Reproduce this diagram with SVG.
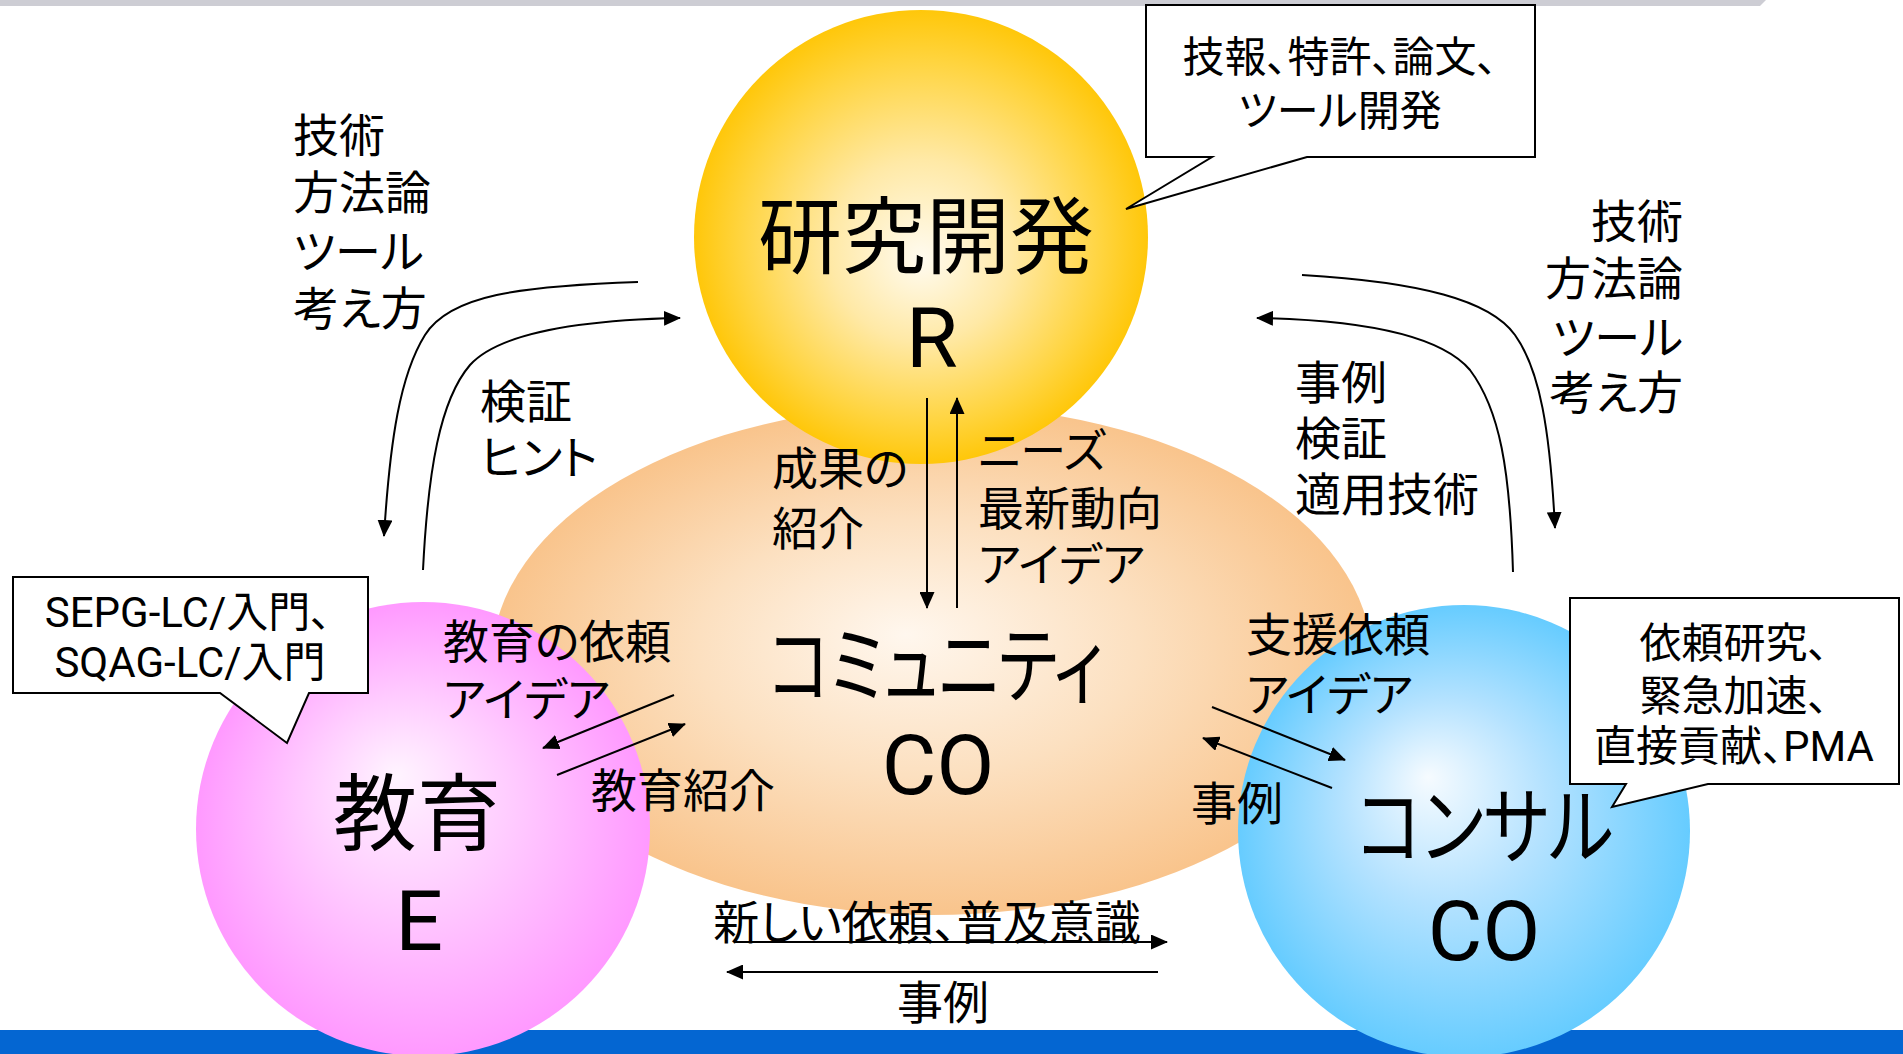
<svg xmlns="http://www.w3.org/2000/svg" width="1903" height="1054" viewBox="0 0 1903 1054">
<style>
.t{font-family:Roboto,"Noto Sans CJK JP",sans-serif;fill:#000;font-feature-settings:"palt" 1;dominant-baseline:central}
.big{font-size:84px;text-anchor:middle}
.lbl{font-size:46px}
.end{text-anchor:end}
.mid{text-anchor:middle}
.call{font-size:42px;text-anchor:middle}
.co{fill:none;stroke:#000;stroke-width:2}
.box{fill:#fff;stroke:#000;stroke-width:2}
</style>
<defs>
<marker id="ah" markerWidth="17" markerHeight="15" refX="16" refY="7.5" orient="auto" markerUnits="userSpaceOnUse">
<path d="M0,0 L17,7.5 L0,15 Z" fill="#000"/>
</marker>
<radialGradient id="gY" cx="0.5" cy="0.5" r="0.5" fx="0.5" fy="0.55">
<stop offset="0" stop-color="#FFFBF0"/>
<stop offset="0.4" stop-color="#FFE9A6"/>
<stop offset="0.8" stop-color="#FFD43E"/>
<stop offset="1" stop-color="#FFC70A"/>
</radialGradient>
<radialGradient id="gO" cx="0.5" cy="0.5" r="0.5" fx="0.47" fy="0.45">
<stop offset="0" stop-color="#FFF7EE"/>
<stop offset="0.5" stop-color="#FCE0C0"/>
<stop offset="1" stop-color="#F9C48C"/>
</radialGradient>
<radialGradient id="gP" cx="0.5" cy="0.5" r="0.5" fx="0.44" fy="0.38">
<stop offset="0" stop-color="#FFF4FF"/>
<stop offset="0.45" stop-color="#FFCCFF"/>
<stop offset="1" stop-color="#FF99FF"/>
</radialGradient>
<radialGradient id="gB" cx="0.5" cy="0.5" r="0.5" fx="0.42" fy="0.38">
<stop offset="0" stop-color="#F6FBFF"/>
<stop offset="0.45" stop-color="#B4E2FF"/>
<stop offset="1" stop-color="#66CCFF"/>
</radialGradient>
</defs>
<rect width="1903" height="1054" fill="#fff"/>
<polygon points="0,0 1766,0 1760,6 0,6" fill="#CDCDD4"/>
<rect x="0" y="1030" width="1903" height="24" fill="#0466D2"/>

<g id="community">
<ellipse cx="932" cy="660" rx="440" ry="255" fill="url(#gO)"/>
</g>
<g id="research">
<circle cx="921" cy="237" r="227" fill="url(#gY)"/>
</g>
<g id="education">
<circle cx="423" cy="829" r="227" fill="url(#gP)"/>
</g>
<g id="consul">
<circle cx="1464" cy="831" r="226" fill="url(#gB)"/>
</g>

<g id="callout-research">
<path class="box" d="M1146,5 H1535 V157 H1307 L1126,209 L1212,157 H1146 Z"/>
<text class="t call"><tspan x="1340" y="57">技報、特許、論文、</tspan><tspan x="1340" y="111">ツール開発</tspan></text>
</g>
<g id="callout-education">
<path class="box" d="M13,577 H368 V693 H309 L287,743 L220,693 H13 Z"/>
<text class="t call"><tspan x="188" y="612">SEPG-LC/入門、</tspan><tspan x="190" y="662">SQAG-LC/入門</tspan></text>
</g>
<g id="callout-consul">
<path class="box" d="M1570,598 H1899 V784 H1708 L1612,807 L1626,784 H1570 Z"/>
<text class="t call"><tspan x="1734" y="643">依頼研究、</tspan><tspan x="1734" y="696">緊急加速、</tspan><tspan x="1734" y="746">直接貢献、PMA</tspan></text>
</g>

<g id="connectors">
<path class="co" d="M638,282 C520,286 450,295 425,335 C400,375 390,440 384,536" marker-end="url(#ah)"/>
<path class="co" d="M423,570 C428,470 440,400 470,365 C500,332 580,320 680,318" marker-end="url(#ah)"/>
<path class="co" d="M1302,275 C1420,282 1490,300 1515,335 C1540,370 1550,430 1555,528" marker-end="url(#ah)"/>
<path class="co" d="M1513,572 C1510,470 1500,410 1470,370 C1440,335 1360,320 1257,318" marker-end="url(#ah)"/>
<path class="co" d="M927,398 V608" marker-end="url(#ah)"/>
<path class="co" d="M957,608 V398" marker-end="url(#ah)"/>
<path class="co" d="M674,695 L543,748" marker-end="url(#ah)"/>
<path class="co" d="M557,775 L685,724" marker-end="url(#ah)"/>
<path class="co" d="M1212,707 L1345,760" marker-end="url(#ah)"/>
<path class="co" d="M1332,788 L1203,738" marker-end="url(#ah)"/>
<path class="co" d="M735,942 H1167" marker-end="url(#ah)"/>
<path class="co" d="M1158,972 H727" marker-end="url(#ah)"/>
</g>

<g id="labels">
<text class="t big"><tspan x="926" y="238">研究開発</tspan><tspan x="932" y="338">R</tspan></text>
<text class="t big"><tspan x="936" y="667" textLength="335" lengthAdjust="spacingAndGlyphs">コミュニティ</tspan><tspan x="938" y="765">CO</tspan></text>
<text class="t big"><tspan x="417" y="815">教育</tspan><tspan x="419" y="921">E</tspan></text>
<text class="t big"><tspan x="1485" y="828" textLength="257" lengthAdjust="spacingAndGlyphs">コンサル</tspan><tspan x="1484" y="931">CO</tspan></text>

<text class="t lbl"><tspan x="293" y="136">技術</tspan><tspan x="293" y="193">方法論</tspan><tspan x="293" y="252">ツール</tspan><tspan x="293" y="309">考え方</tspan></text>
<text class="t lbl"><tspan x="480" y="402">検証</tspan><tspan x="480" y="458">ヒント</tspan></text>

<text class="t lbl end"><tspan x="1683" y="222">技術</tspan><tspan x="1683" y="279">方法論</tspan><tspan x="1683" y="338">ツール</tspan><tspan x="1683" y="393">考え方</tspan></text>
<text class="t lbl"><tspan x="1295" y="383">事例</tspan><tspan x="1295" y="439">検証</tspan><tspan x="1295" y="495">適用技術</tspan></text>

<text class="t lbl"><tspan x="772" y="469">成果の</tspan><tspan x="772" y="529">紹介</tspan></text>
<text class="t lbl"><tspan x="978" y="451">ニーズ</tspan><tspan x="978" y="509">最新動向</tspan><tspan x="978" y="565">アイデア</tspan></text>

<text class="t lbl"><tspan x="443" y="642">教育の依頼</tspan><tspan x="443" y="700">アイデア</tspan></text>
<text class="t lbl" x="591" y="791">教育紹介</text>

<text class="t lbl"><tspan x="1246" y="635">支援依頼</tspan><tspan x="1246" y="695">アイデア</tspan></text>
<text class="t lbl" x="1191" y="804">事例</text>

<text class="t lbl mid" x="927" y="923">新しい依頼、普及意識</text>
<text class="t lbl mid" x="943" y="1003">事例</text>
</g>
</svg>
